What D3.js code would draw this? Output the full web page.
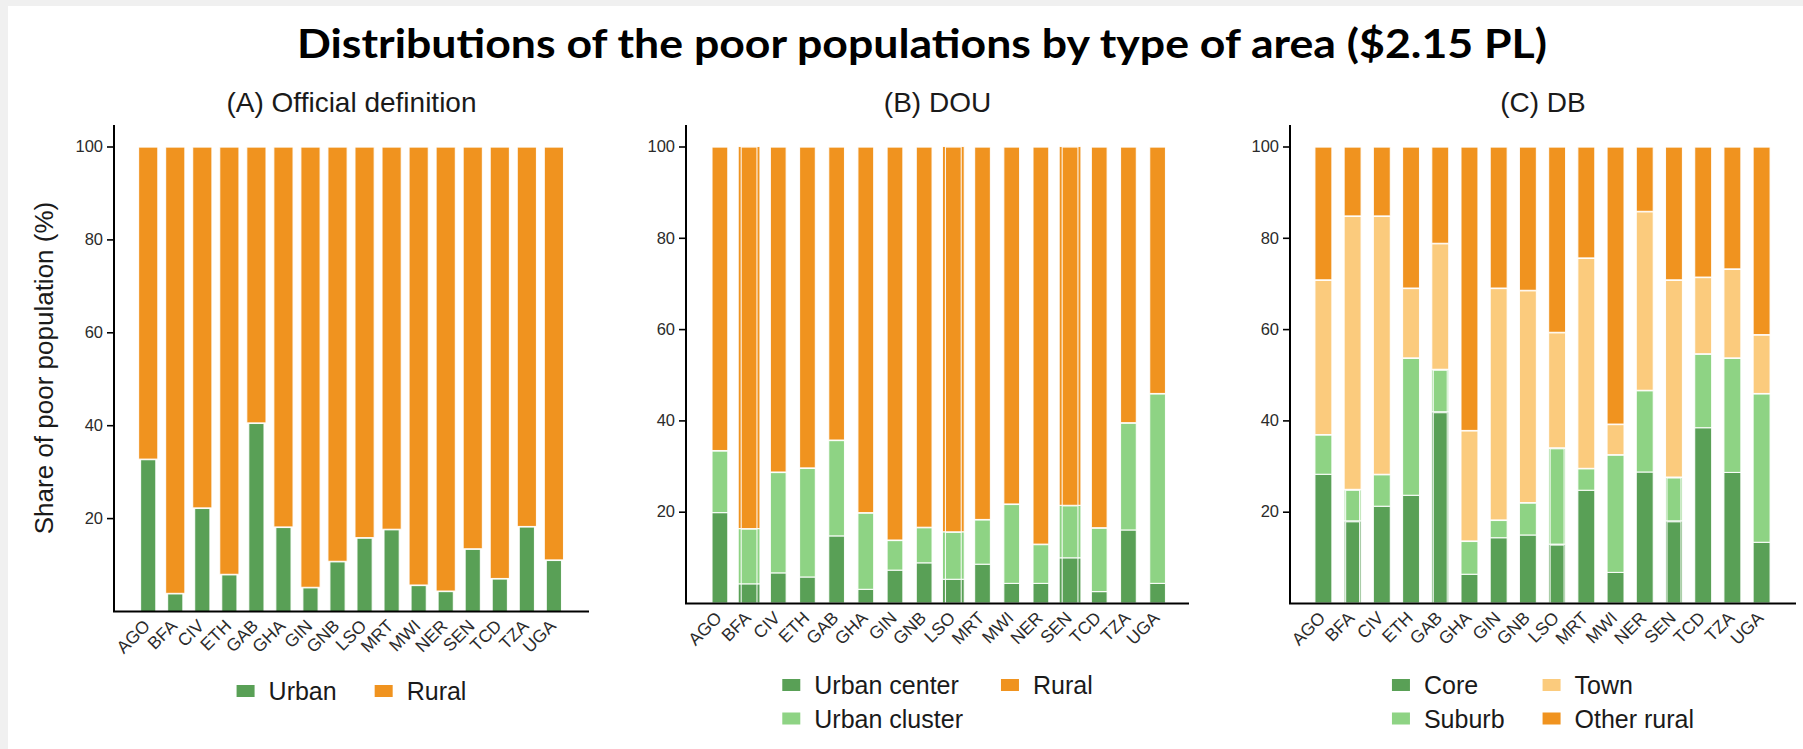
<!DOCTYPE html>
<html>
<head>
<meta charset="utf-8">
<script src="https://cdn.jsdelivr.net/npm/d3@7"></script>
<style>
  html, body { margin: 0; padding: 0; background: #f0f0f0; }
  svg { display: block; }
  text { font-family: "Liberation Sans", Arial, Helvetica, sans-serif; }
</style>
</head>
<body>
<svg id="chart" width="1803" height="749"></svg>
<script>
// Countries shown on every panel
const countries = ["AGO","BFA","CIV","ETH","GAB","GHA","GIN","GNB","LSO","MRT","MWI","NER","SEN","TCD","TZA","UGA"];
const yTicks = [20, 40, 60, 80, 100];

// (A) Official definition: shares of the poor (%)
const urbanA = [32.7, 3.8, 22.2, 7.9, 40.5, 18.1, 5.1, 10.7, 15.8, 17.6, 5.6, 4.3, 13.4, 7.0, 18.2, 11.0];
const ruralA = [67.3, 96.2, 77.8, 92.1, 59.5, 81.9, 94.9, 89.3, 84.2, 82.4, 94.4, 95.7, 86.6, 93.0, 81.8, 89.0];

// (B) Degree of urbanisation
const urbanCenterB  = [19.8, 4.2, 6.6, 5.7, 14.7, 3.0, 7.2, 8.8, 5.2, 8.5, 4.3, 4.3, 9.9, 2.5, 16.0, 4.3];
const urbanClusterB = [13.6, 12.1, 22.1, 23.9, 21.0, 16.8, 6.6, 7.8, 10.4, 9.8, 17.4, 8.6, 11.5, 14.0, 23.5, 41.6];
const ruralB        = [66.6, 83.7, 71.3, 70.4, 64.3, 80.2, 86.2, 83.4, 84.4, 81.7, 78.3, 87.1, 78.6, 83.5, 60.5, 54.1];
// countries whose bars carry a second, slightly wider outline
const doubledB = ["BFA", "LSO", "SEN"];

// (C) Degree of urbanisation, detailed classes
const coreC   = [28.2, 18.0, 21.2, 23.6, 41.9, 6.3, 14.3, 14.9, 12.9, 24.7, 6.7, 28.7, 18.0, 38.4, 28.6, 13.3];
const suburbC = [8.7, 6.9, 7.0, 30.1, 9.3, 7.3, 3.9, 7.1, 21.1, 4.8, 25.8, 17.9, 9.6, 16.2, 25.1, 32.6];
const townC   = [33.9, 59.9, 56.6, 15.3, 27.6, 24.2, 50.8, 46.5, 25.3, 46.1, 6.7, 39.2, 43.2, 16.8, 19.5, 12.9];
const otherRuralC = [29.2, 15.2, 15.2, 31.0, 21.2, 62.2, 31.0, 31.5, 40.7, 24.4, 60.8, 14.2, 29.2, 28.6, 26.8, 41.2];
// countries whose urban segments carry an inner outline
const doubledC = ["BFA", "GAB", "LSO", "SEN"];

const COL = {
  dark: "#59a056",
  light: "#8ed384",
  town: "#fbcb7d",
  orange: "#f0931f"
};

const panels = [
  {
    title: "(A) Official definition",
    box: { left: 114, right: 589, top: 125, bottom: 611 },
    first: 148.2, last: 553.9, barFrac: 0.71,
    series: [
      { name: "Urban", values: urbanA, color: COL.dark, inset: true },
      { name: "Rural", values: ruralA, color: COL.orange }
    ],
    doubled: null,
    legend: { cols: [["Urban"], ["Rural"]], rows: [691] },
    yTitle: true
  },
  {
    title: "(B) DOU",
    box: { left: 686, right: 1189, top: 125, bottom: 603 },
    first: 719.9, last: 1157.6, barFrac: 0.54,
    series: [
      { name: "Urban center", values: urbanCenterB, color: COL.dark },
      { name: "Urban cluster", values: urbanClusterB, color: COL.light },
      { name: "Rural", values: ruralB, color: COL.orange }
    ],
    doubled: { countries: doubledB, layers: 3, grow: 3, under: true },
    legend: { cols: [["Urban center", "Urban cluster"], ["Rural"]], rows: [685, 718.5] }
  },
  {
    title: "(C) DB",
    box: { left: 1290, right: 1796, top: 125, bottom: 603 },
    first: 1323.4, last: 1761.6, barFrac: 0.58,
    series: [
      { name: "Core", values: coreC, color: COL.dark },
      { name: "Suburb", values: suburbC, color: COL.light },
      { name: "Town", values: townC, color: COL.town },
      { name: "Other rural", values: otherRuralC, color: COL.orange }
    ],
    doubled: { countries: doubledC, layers: 2, grow: -1.5, under: false },
    legend: { cols: [["Core", "Suburb"], ["Town", "Other rural"]], rows: [685, 718.5] }
  }
];

const svg = d3.select("#chart");

// white slide area framed by a thin grey margin
svg.append("rect").attr("x", 8).attr("y", 6).attr("width", 1795).attr("height", 743).attr("fill", "#ffffff");

svg.append("text")
  .attr("x", 922).attr("y", 58)
  .attr("text-anchor", "middle")
  .attr("textLength", 1250)
  .attr("lengthAdjust", "spacingAndGlyphs")
  .style("font-family", "Lato, 'Open Sans', 'Liberation Sans', sans-serif")
  .style("font-weight", "bold")
  .style("font-size", "40px")
  .attr("fill", "#000")
  .text("Distributions of the poor populations by type of area ($2.15 PL)");

panels.forEach(p => {
  const b = p.box;
  const step = (p.last - p.first) / (countries.length - 1);
  const pad = 1 - p.barFrac;
  const x = d3.scaleBand()
    .domain(countries)
    .range([p.first - step / 2, p.last + step / 2])
    .paddingInner(pad)
    .paddingOuter(pad / 2);
  const topVal = (b.bottom - b.top) / ((b.bottom - 146.5) / 100);
  const y = d3.scaleLinear().domain([0, topVal]).range([b.bottom, b.top]);

  const g = svg.append("g");

  // stacked data
  const rows = countries.map((c, i) => {
    const r = { country: c };
    p.series.forEach(s => { r[s.name] = s.values[i]; });
    return r;
  });
  const stack = d3.stack().keys(p.series.map(s => s.name))(rows);

  // duplicate outlined bars for the doubled countries
  const drawDoubled = () => {
    const dbl = p.doubled;
    stack.slice(0, dbl.layers).forEach((layer, li) => {
      const s = p.series[li];
      g.append("g").selectAll("rect")
        .data(layer.filter(d => dbl.countries.includes(d.data.country)))
        .join("rect")
        .attr("x", d => x(d.data.country) - dbl.grow)
        .attr("width", x.bandwidth() + 2 * dbl.grow)
        .attr("y", d => y(d[1]) + (dbl.under ? 0 : 1))
        .attr("height", d => Math.max(0, y(d[0]) - y(d[1]) - (dbl.under ? 0 : 1)))
        .attr("fill", s.color)
        .attr("stroke", "#ffffff")
        .attr("stroke-opacity", 0.9)
        .attr("stroke-width", 1.1);
    });
  };

  if (p.doubled && p.doubled.under) drawDoubled();

  stack.forEach((layer, li) => {
    const s = p.series[li];
    g.append("g").selectAll("rect")
      .data(layer)
      .join("rect")
      .attr("x", d => x(d.data.country) + (s.inset ? 2 : 0))
      .attr("width", x.bandwidth() - (s.inset ? 4 : 0))
      .attr("y", d => y(d[1]) + (li > 0 || s.inset ? 0.6 : 0))
      .attr("height", d => Math.max(0, y(d[0]) - y(d[1]) - (li > 0 ? 0.6 : 0)))
      .attr("fill", s.color)
      .attr("stroke", "#ffffff")
      .attr("stroke-opacity", 0.9)
      .attr("stroke-width", 1.1);
  });

  if (p.doubled && !p.doubled.under) drawDoubled();

  // y axis
  const yAxis = d3.axisLeft(y).tickValues(yTicks).tickSize(7).tickPadding(4).tickSizeOuter(0);
  const ya = g.append("g").attr("transform", `translate(${b.left},0)`).call(yAxis);
  ya.select(".domain").remove();
  ya.selectAll(".tick line").attr("stroke", "#000").attr("stroke-width", 1.6);
  ya.selectAll(".tick text").attr("fill", "#2b2b2b").style("font-size", "16.5px");
  g.append("line")
    .attr("x1", b.left).attr("x2", b.left)
    .attr("y1", b.top).attr("y2", b.bottom + 1)
    .attr("stroke", "#000").attr("stroke-width", 2);

  // x axis
  const xAxis = d3.axisBottom(x).tickSize(0).tickPadding(0);
  const xa = g.append("g").attr("transform", `translate(0,${b.bottom})`).call(xAxis);
  xa.select(".domain").remove();
  xa.selectAll(".tick text")
    .attr("fill", "#2b2b2b")
    .style("font-size", "17.5px")
    .attr("text-anchor", "end")
    .attr("dy", null)
    .attr("transform", "translate(3,16) rotate(-45)");
  g.append("line")
    .attr("x1", b.left - 1).attr("x2", b.right)
    .attr("y1", b.bottom + 0.5).attr("y2", b.bottom + 0.5)
    .attr("stroke", "#000").attr("stroke-width", 2);

  // panel title
  const cx = (b.left + b.right) / 2;
  g.append("text")
    .attr("x", cx).attr("y", 112)
    .attr("text-anchor", "middle")
    .attr("fill", "#1a1a1a")
    .style("font-size", "28px")
    .text(p.title);

  if (p.yTitle) {
    g.append("text")
      .attr("transform", `translate(53,${(b.top + b.bottom) / 2}) rotate(-90)`)
      .attr("text-anchor", "middle")
      .attr("fill", "#1a1a1a")
      .style("font-size", "26px")
      .text("Share of poor population (%)");
  }

  // legend, centred under the panel
  const colorOf = name => p.series.find(s => s.name === name).color;
  const keyW = 18, keyH = 12, keyGap = 14, colGap = 38;
  const lg = g.append("g");
  const colWidths = p.legend.cols.map(col => {
    let w = 0;
    col.forEach(name => {
      const t = lg.append("text").style("font-size", "25px").text(name);
      w = Math.max(w, t.node().getComputedTextLength());
      t.remove();
    });
    return keyW + keyGap + w;
  });
  const total = d3.sum(colWidths) + colGap * (colWidths.length - 1);
  let cxPos = cx - total / 2;
  p.legend.cols.forEach((col, ci) => {
    col.forEach((name, ri) => {
      const yc = p.legend.rows[ri];
      lg.append("rect")
        .attr("x", cxPos).attr("y", yc - keyH / 2)
        .attr("width", keyW).attr("height", keyH)
        .attr("fill", colorOf(name));
      lg.append("text")
        .attr("x", cxPos + keyW + keyGap).attr("y", yc)
        .attr("dy", "0.36em")
        .attr("fill", "#1a1a1a")
        .style("font-size", "25px")
        .text(name);
    });
    cxPos += colWidths[ci] + colGap;
  });
});
</script>
</body>
</html>
